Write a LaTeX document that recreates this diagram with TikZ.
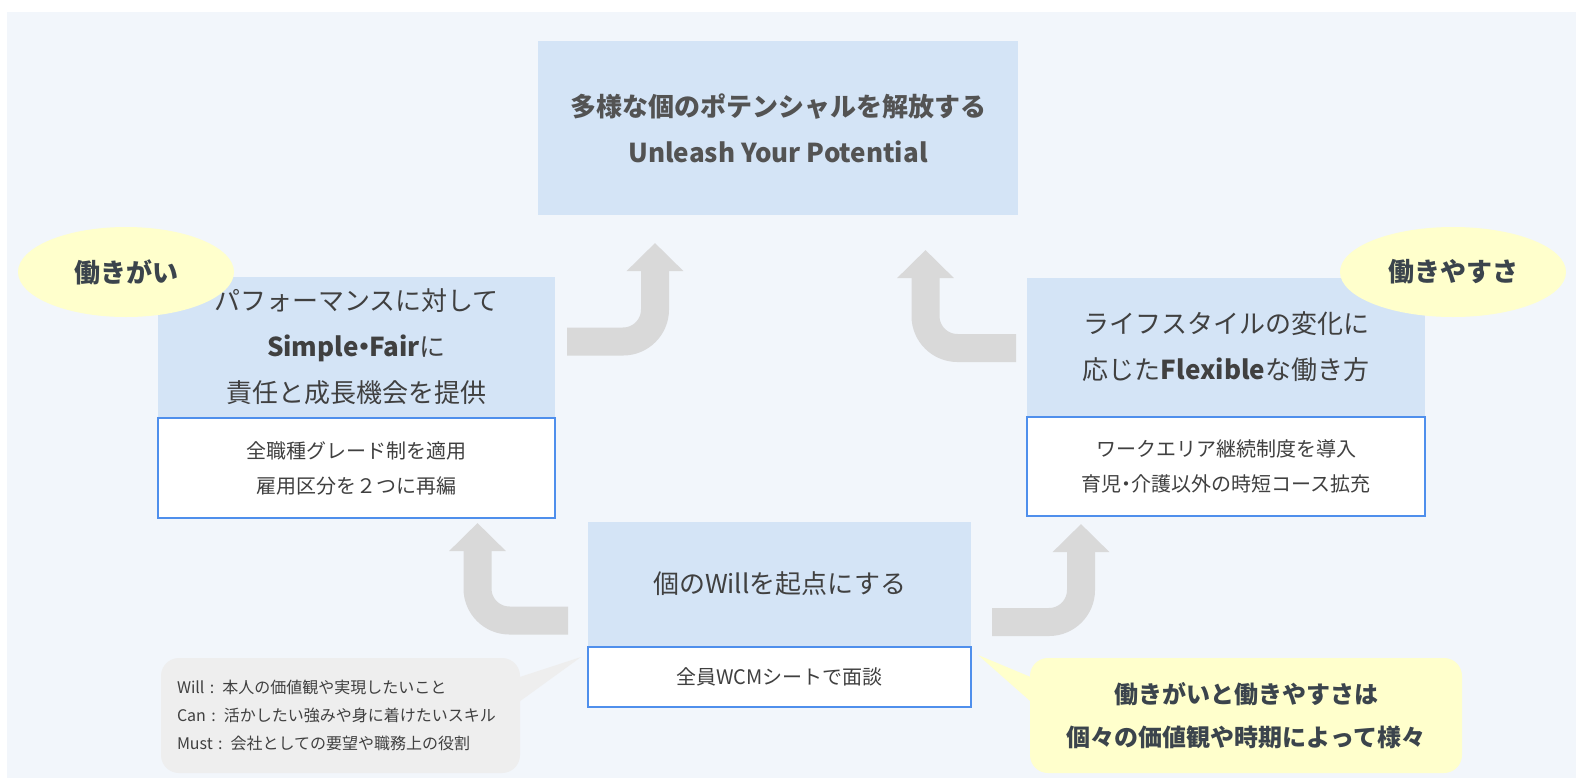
\documentclass[tikz,border=0pt]{standalone}
\usepackage{fontspec}
\setmainfont{Noto Sans CJK JP}
\usetikzlibrary{shapes.geometric,arrows.meta,positioning}

\definecolor{bgblue}{HTML}{F2F6FB}
\definecolor{boxblue}{HTML}{D4E4F6}
\definecolor{lineblue}{HTML}{4F8FEC}
\definecolor{txtgray}{HTML}{404040}
\definecolor{txtdark}{HTML}{3B444C}
\definecolor{tagyellow}{HTML}{FFFFCC}
\definecolor{notegray}{HTML}{EEEEEE}
\definecolor{turngray}{HTML}{D9D9D9}

\tikzset{
  headbox/.style={fill=boxblue, align=center, text=txtgray, inner sep=0pt,
    font=\fontsize{26}{46}\selectfont},
  subbox/.style={draw=lineblue, line width=1.5pt, fill=white, align=center,
    text=txtgray, inner sep=0pt, font=\fontsize{20}{35}\selectfont},
  tag/.style={ellipse, fill=tagyellow, inner sep=0pt, minimum height=90pt,
    text=txtdark, font=\fontsize{26}{30}\selectfont\bfseries},
  bubble/.style={rounded corners=18pt, inner sep=0pt, minimum height=115pt},
  turn/.style={turngray, line width=28pt, rounded corners=32pt,
    -{Triangle[length=28pt,width=55pt]}},
}

\begin{document}
\begin{tikzpicture}[x=1pt, y=-1pt]
    \useasboundingbox (0,0) rectangle (1576,780);
    \fill[white] (0,0) rectangle (1576,780);
    \fill[bgblue] (7,12) rectangle (1576,778);

    % bent arrows
    \coordinate (t1s) at (567,341.5);
    \coordinate (t1e) at (655,243);
    \coordinate (t2s) at (1016,348);
    \coordinate (t2e) at (925.5,250);
    \coordinate (t3s) at (568,620.5);
    \coordinate (t3e) at (477.5,523);
    \coordinate (t4s) at (992,622);
    \coordinate (t4e) at (1081,524);
    \draw[turn] (t1s) -| (t1e);
    \draw[turn] (t2s) -| (t2e);
    \draw[turn] (t3s) -| (t3e);
    \draw[turn] (t4s) -| (t4e);

    % boxes
    \node[headbox, minimum width=480pt, minimum height=174pt, text=txtgray!90,
      font=\fontsize{26}{46}\selectfont\bfseries] (goal) at (778,128)
      {多様な個のポテンシャルを解放する\\Unleash Your Potential};

    \node[headbox, minimum width=397pt, minimum height=140pt] (yarigai) at (356.5,347)
      {\rule{0pt}{8pt}パフォーマンスに対して\\\textbf{Simple\kern-0.3em・\kern-0.3em Fair}に\\責任と成長機会を提供};
    \node[subbox, minimum width=397pt, minimum height=100pt, below=0pt of yarigai] (yarigaisub)
      {全職種グレード制を適用\\雇用区分を２つに再編};

    \node[headbox, minimum width=398pt, minimum height=138pt] (yasusa) at (1226,347)
      {ライフスタイルの変化に\\応じた\textbf{Flexible}な働き方};
    \node[subbox, minimum width=398pt, minimum height=99pt, below=0pt of yasusa] (yasusasub)
      {ワークエリア継続制度を導入\\育児\kern-0.25em・\kern-0.25em 介護以外の時短コース拡充};

    \node[headbox, minimum width=383pt, minimum height=124pt] (will) at (779.5,584)
      {個のWillを起点にする};
    \node[subbox, minimum width=383pt, minimum height=60pt, below=0pt of will] (willsub)
      {全員WCMシートで面談};

    % tags
    \node[tag, minimum width=216pt] (tagl) at (126,272) {働きがい};
    \node[tag, minimum width=226pt] (tagr) at (1453,272) {働きやすさ};

    % callouts
    \coordinate (wcmtip) at (581,657);
    \coordinate (sumtip) at (978,655);
    \node[bubble, fill=notegray, minimum width=359pt, text width=327pt, align=left,
      text=txtgray, font=\fontsize{16}{28}\selectfont] (wcm) at (340.5,715.5)
      {Will : 本人の価値観や実現したいこと\\Can : 活かしたい強みや身に着けたいスキル\\Must : 会社としての要望や職務上の役割};
    \fill[notegray] ([xshift=-2pt,yshift=38pt]wcm.east) -- (wcmtip) -- ([xshift=-2pt,yshift=13pt]wcm.east) -- cycle;

    \node[bubble, fill=tagyellow, minimum width=432pt, align=center, text=txtdark,
      font=\fontsize{24}{43}\selectfont\bfseries] (sum) at (1246,715.5)
      {働きがいと働きやすさは\\個々の価値観や時期によって様々};
    \fill[tagyellow] ([xshift=2pt,yshift=38pt]sum.west) -- (sumtip) -- ([xshift=2pt,yshift=13pt]sum.west) -- cycle;
\end{tikzpicture}
\end{document}
